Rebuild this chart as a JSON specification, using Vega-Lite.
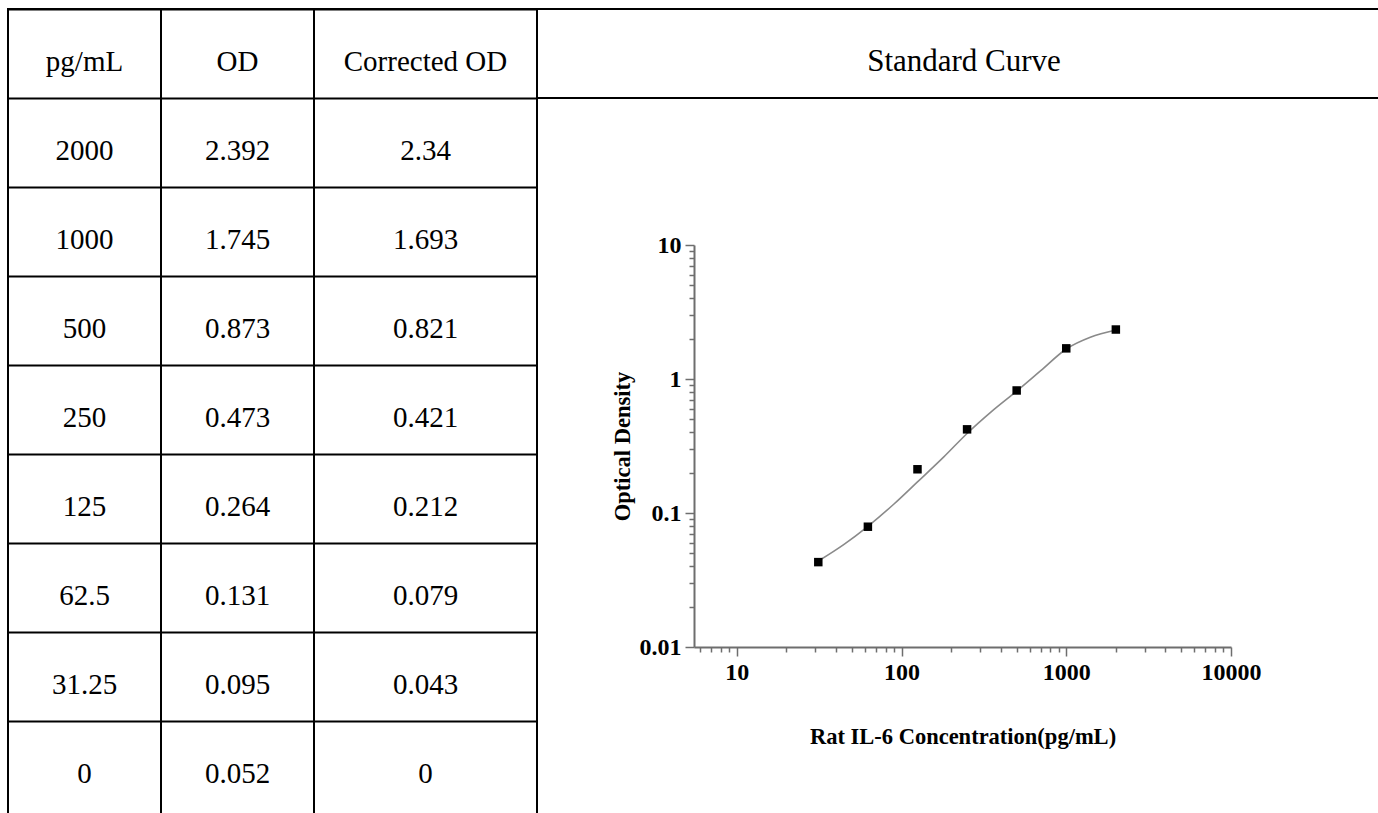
{
  "$schema": "https://vega.github.io/schema/vega-lite/v6.json",
  "padding": {"left": 7, "top": 8, "right": 0, "bottom": 0},
  "autosize": {"type": "pad"},
  "background": "white",
  "bounds": "flush",
  "spacing": 0,
  "config": {
    "view": {"stroke": null},
    "text": {"font": "Liberation Serif", "color": "black"}
  },
  "datasets": {
    "table": [
      {"i": 0, "pg": "pg/mL", "od": "OD", "cod": "Corrected OD"},
      {"i": 1, "pg": "2000", "od": "2.392", "cod": "2.34"},
      {"i": 2, "pg": "1000", "od": "1.745", "cod": "1.693"},
      {"i": 3, "pg": "500", "od": "0.873", "cod": "0.821"},
      {"i": 4, "pg": "250", "od": "0.473", "cod": "0.421"},
      {"i": 5, "pg": "125", "od": "0.264", "cod": "0.212"},
      {"i": 6, "pg": "62.5", "od": "0.131", "cod": "0.079"},
      {"i": 7, "pg": "31.25", "od": "0.095", "cod": "0.043"},
      {"i": 8, "pg": "0", "od": "0.052", "cod": "0"}
    ],
    "standards": [
      {"conc": 2000, "od": 2.34},
      {"conc": 1000, "od": 1.693},
      {"conc": 500, "od": 0.821},
      {"conc": 250, "od": 0.421},
      {"conc": 125, "od": 0.212},
      {"conc": 62.5, "od": 0.079},
      {"conc": 31.25, "od": 0.043}
    ],
    "fit": [
      {"conc": 31.25, "od": 0.0438},
      {"conc": 45, "od": 0.0586},
      {"conc": 62.5, "od": 0.0796},
      {"conc": 90, "od": 0.1167},
      {"conc": 125, "od": 0.1706},
      {"conc": 180, "od": 0.261},
      {"conc": 250, "od": 0.392},
      {"conc": 350, "od": 0.568},
      {"conc": 500, "od": 0.811},
      {"conc": 700, "od": 1.153},
      {"conc": 1000, "od": 1.675},
      {"conc": 1400, "od": 2.05},
      {"conc": 2000, "od": 2.32}
    ]
  },
  "hconcat": [
    {
      "width": 153, "height": 900,
      "view": {"stroke": "black", "strokeWidth": 2},
      "data": {"name": "table"},
      "mark": {"type": "text", "fontSize": 29, "baseline": "alphabetic", "dy": 17, "color": "black", "font": "Liberation Serif"},
      "encoding": {
        "y": {"field": "i", "type": "ordinal",
              "scale": {"type": "band", "range": [0, 801], "paddingInner": 0, "paddingOuter": 0},
              "axis": {"title": null, "labels": false, "ticks": false, "domain": false, "grid": true, "gridColor": "black", "gridWidth": 2, "gridOpacity": 1, "bandPosition": 0}},
        "text": {"field": "pg"}
      }
    },
    {
      "width": 153, "height": 900,
      "view": {"stroke": "black", "strokeWidth": 2},
      "data": {"name": "table"},
      "mark": {"type": "text", "fontSize": 29, "baseline": "alphabetic", "dy": 17, "color": "black", "font": "Liberation Serif"},
      "encoding": {
        "y": {"field": "i", "type": "ordinal",
              "scale": {"type": "band", "range": [0, 801], "paddingInner": 0, "paddingOuter": 0},
              "axis": {"title": null, "labels": false, "ticks": false, "domain": false, "grid": true, "gridColor": "black", "gridWidth": 2, "gridOpacity": 1, "bandPosition": 0}},
        "text": {"field": "od"}
      }
    },
    {
      "width": 223, "height": 900,
      "view": {"stroke": "black", "strokeWidth": 2},
      "data": {"name": "table"},
      "mark": {"type": "text", "fontSize": 29, "baseline": "alphabetic", "dy": 17, "color": "black", "font": "Liberation Serif"},
      "encoding": {
        "y": {"field": "i", "type": "ordinal",
              "scale": {"type": "band", "range": [0, 801], "paddingInner": 0, "paddingOuter": 0},
              "axis": {"title": null, "labels": false, "ticks": false, "domain": false, "grid": true, "gridColor": "black", "gridWidth": 2, "gridOpacity": 1, "bandPosition": 0}},
        "text": {"field": "cod"}
      }
    },
    {
      "bounds": "flush",
      "spacing": 147,
      "vconcat": [
        {
          "width": 854, "height": 89,
          "view": {"stroke": "black", "strokeWidth": 2},
          "data": {"values": [{"title": "Standard Curve"}]},
          "mark": {"type": "text", "fontSize": 31, "baseline": "alphabetic", "dy": 17, "color": "black", "font": "Liberation Serif"},
          "encoding": {"text": {"field": "title"}}
        },
        {
          "bounds": "flush",
          "spacing": 0,
          "hconcat": [
            {
              "width": 157, "height": 402,
              "data": {"values": []},
              "mark": {"type": "text"},
              "encoding": {}
            },
            {
              "width": 537, "height": 402,
              "resolve": {"axis": {"x": "independent", "y": "independent"}},
              "layer": [
                {
                  "data": {"name": "fit"},
                  "mark": {"type": "line", "color": "#8a8a8a", "strokeWidth": 1.6, "interpolate": "monotone"},
                  "encoding": {
                    "x": {"field": "conc", "type": "quantitative",
                          "scale": {"type": "log", "domain": [5.5, 10000], "nice": false},
                          "axis": {"orient": "bottom", "title": "Rat IL-6 Concentration(pg/mL)",
                                   "values": [10, 100, 1000, 10000], "format": "~g",
                                   "grid": false, "labelFlush": false, "labelOverlap": false, "labelBound": false,
                                   "domainColor": "#6e6e6e", "domainWidth": 2, "tickColor": "#6e6e6e", "tickWidth": 1.5, "tickSize": 9,
                                   "labelFont": "Liberation Serif", "labelFontWeight": "bold", "labelFontSize": 24, "labelColor": "black", "labelPadding": 4,
                                   "titleFont": "Liberation Serif", "titleFontWeight": "bold", "titleFontSize": 22.5, "titleColor": "black", "titlePadding": 41}},
                    "y": {"field": "od", "type": "quantitative",
                          "scale": {"type": "log", "domain": [0.01, 10], "nice": false},
                          "axis": {"orient": "left", "title": "Optical Density",
                                   "values": [0.01, 0.1, 1, 10], "format": "~g",
                                   "grid": false, "labelFlush": false, "labelOverlap": false, "labelBound": false,
                                   "domainColor": "#6e6e6e", "domainWidth": 2, "tickColor": "#6e6e6e", "tickWidth": 1.5, "tickSize": 9,
                                   "labelFont": "Liberation Serif", "labelFontWeight": "bold", "labelFontSize": 24, "labelColor": "black", "labelPadding": 4,
                                   "titleFont": "Liberation Serif", "titleFontWeight": "bold", "titleFontSize": 22.5, "titleColor": "black", "titlePadding": 5}}
                  }
                },
                {
                  "data": {"name": "standards"},
                  "mark": {"type": "point", "shape": "square", "filled": true, "color": "black", "size": 72, "opacity": 1},
                  "encoding": {
                    "x": {"field": "conc", "type": "quantitative",
                          "scale": {"type": "log", "domain": [5.5, 10000], "nice": false},
                          "axis": {"orient": "bottom", "title": null, "labels": false, "domain": false, "grid": false,
                                   "values": [6, 7, 8, 9, 20, 30, 40, 50, 60, 70, 80, 90, 200, 300, 400, 500, 600, 700, 800, 900, 2000, 3000, 4000, 5000, 6000, 7000, 8000, 9000],
                                   "tickColor": "#6e6e6e", "tickWidth": 1.5, "tickSize": 5}},
                    "y": {"field": "od", "type": "quantitative",
                          "scale": {"type": "log", "domain": [0.01, 10], "nice": false},
                          "axis": {"orient": "left", "title": null, "labels": false, "domain": false, "grid": false,
                                   "values": [0.02, 0.03, 0.04, 0.05, 0.06, 0.07, 0.08, 0.09, 0.2, 0.3, 0.4, 0.5, 0.6, 0.7, 0.8, 0.9, 2, 3, 4, 5, 6, 7, 8, 9],
                                   "tickColor": "#6e6e6e", "tickWidth": 1.5, "tickSize": 5}}
                  }
                }
              ]
            }
          ]
        }
      ]
    }
  ]
}
